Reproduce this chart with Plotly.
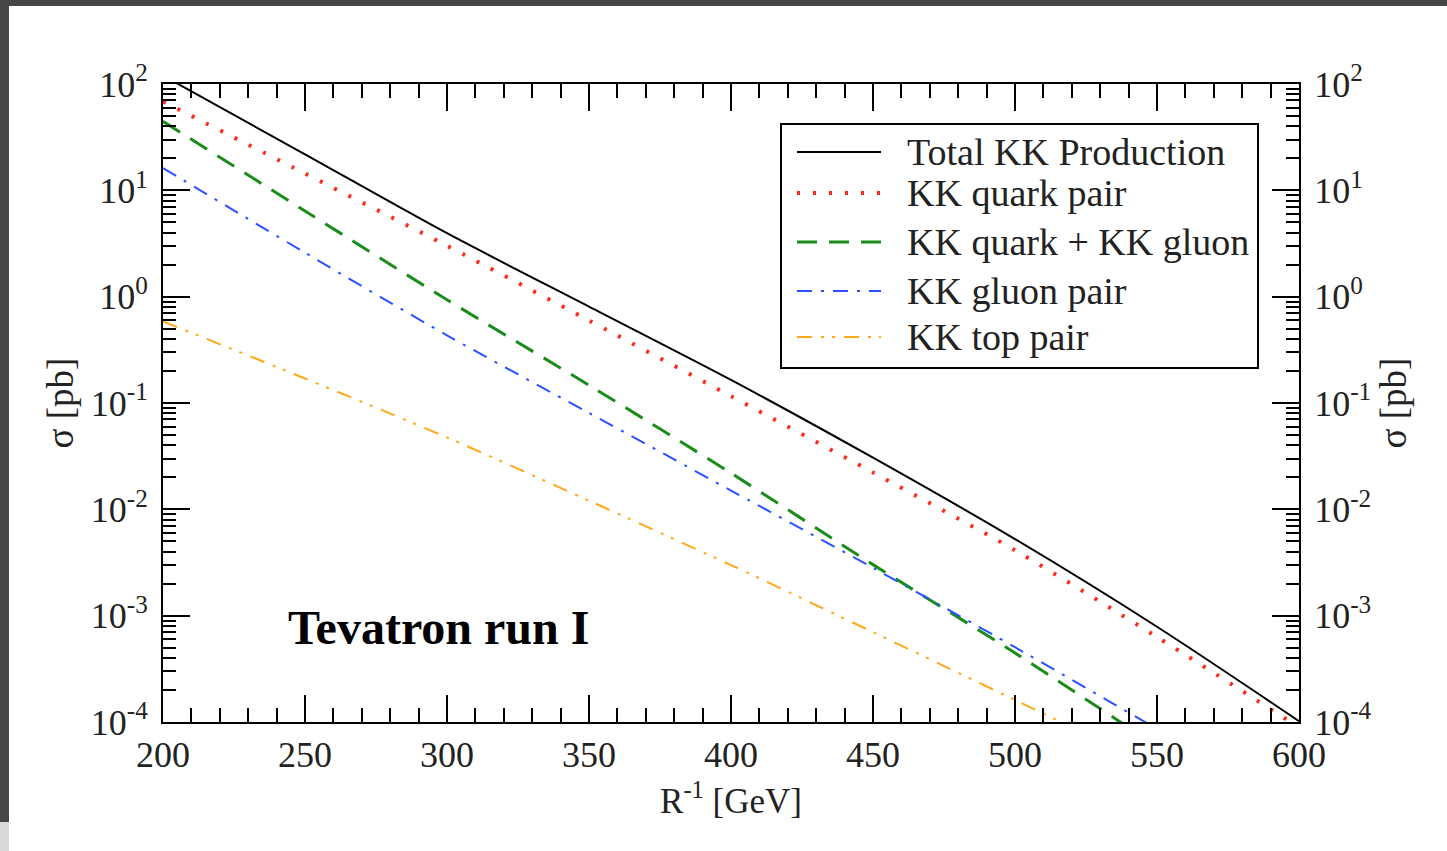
import plotly.graph_objects as go

# ---- data ----
R_inv = [200, 250, 300, 350, 400, 450, 500, 550, 600]
total_kk = [120, 21.8, 3.95, 0.807, 0.165, 0.0306, 0.00525, 7.87e-4, 1.02e-4]
kk_quark_pair = [68.5, 14.4, 3.01, 0.597, 0.116, 0.0222, 0.00412, 6.3e-4, 8.9e-5]
kk_quark_gluon = [44.5, 6.4, 0.935, 0.147, 0.0219, 0.00302, 4.46e-4, 5.9e-5]
kk_gluon_pair = [16.2, 2.59, 0.433, 0.0807, 0.01503, 0.00282, 5.05e-4, 8.6e-5]
kk_top_pair = [0.585, 0.170, 0.0474, 0.01205, 0.00299, 7.0e-4, 1.61e-4, 3.7e-5]

series_names = ["Total KK Production", "KK quark pair", "KK quark + KK gluon",
                "KK gluon pair", "KK top pair"]
x_tick_vals = [200, 250, 300, 350, 400, 450, 500, 550, 600]
y_exponents = [-4, -3, -2, -1, 0, 1, 2]

# ---- styles ----
FONT = "Liberation Serif"
TXT = "#222222"
styles = [
    dict(color="black", width=2, dash="solid"),
    dict(color="#ff2a1a", width=4, dash="3px,13px"),
    dict(color="#1a8c1a", width=3, dash="20px,12px"),
    dict(color="#2a50ff", width=2, dash="15px,9px,3px,9px"),
    dict(color="#ffa81a", width=2, dash="15px,9px,3px,8px,3px,9px"),
]
all_series = [total_kk, kk_quark_pair, kk_quark_gluon, kk_gluon_pair, kk_top_pair]

# plot-area pixel geometry
L, RGT, T, B = 163, 1299, 84, 722
W, H = 1447, 851


def px_x(px):
    return (px - L) / (RGT - L)


def px_y(py):
    return (B - py) / (B - T)


fig = go.Figure()
for name, vals, st in zip(series_names, all_series, styles):
    fig.add_trace(go.Scatter(x=R_inv[:len(vals)], y=vals, mode="lines", name=name,
                             line=dict(shape="spline", smoothing=0.8, **st),
                             showlegend=False, hoverinfo="skip"))
# invisible trace for right axis
fig.add_trace(go.Scatter(x=R_inv[:1], y=total_kk[:1], yaxis="y2", mode="lines",
                         line=dict(width=0), showlegend=False, hoverinfo="skip"))

y_major = [10.0 ** e for e in y_exponents]
y_text = ["10<sup>%d</sup>" % e for e in y_exponents]
y_minor = [k * 10.0 ** e for e in y_exponents[:-1] for k in range(2, 10)]
x_minor = [v for v in range(200, 601, 10) if v % 50]


def yax(side, standoff):
    return dict(
        side=side,
        type="log", range=[-4, 2], tickmode="array", tickvals=y_major, ticktext=y_text,
        ticks="inside", ticklen=27, tickwidth=2, tickcolor="black",
        showline=True, linewidth=2, linecolor="black", showgrid=False, zeroline=False,
        tickfont=dict(family=FONT, size=36, color=TXT),
        minor=dict(tickmode="array", tickvals=y_minor, ticks="inside", ticklen=13,
                   tickwidth=2, tickcolor="black", showgrid=False),
        title=dict(text="σ [pb]", font=dict(family=FONT, size=37, color=TXT),
                   standoff=standoff),
        ticklabelstandoff=6,
    )


fig.update_layout(
    width=W, height=H,
    margin=dict(l=L, r=W - RGT, t=T, b=H - B, autoexpand=False),
    paper_bgcolor="#464646", plot_bgcolor="white",
    xaxis=dict(
        range=[200, 600], tickmode="array", tickvals=x_tick_vals,
        ticks="inside", ticklen=27, tickwidth=2, tickcolor="black",
        showline=True, linewidth=2, linecolor="black", mirror="ticks",
        showgrid=False, zeroline=False,
        tickfont=dict(family=FONT, size=36, color=TXT),
        minor=dict(tickmode="array", tickvals=x_minor, ticks="inside", ticklen=14,
                   tickwidth=2, tickcolor="black", showgrid=False),
        title=dict(text="R<sup>-1</sup> [GeV]", font=dict(family=FONT, size=35, color=TXT),
                   standoff=14),
        ticklabelstandoff=0,
    ),
    yaxis=yax("left", 6),
    yaxis2=dict(overlaying="y", **yax("right", 10)),
)

shapes = [
    # white page over dark frame
    dict(type="rect", xref="paper", yref="paper", layer="below",
         x0=px_x(9), x1=px_x(W + 5), y0=px_y(H + 5), y1=px_y(6),
         fillcolor="white", line=dict(width=0)),
    dict(type="rect", xref="paper", yref="paper", layer="below",
         x0=px_x(-5), x1=px_x(9), y0=px_y(H + 5), y1=px_y(822),
         fillcolor="#d9d9d9", line=dict(width=0)),
    # legend box
    dict(type="rect", xref="paper", yref="paper",
         x0=px_x(781), x1=px_x(1258), y0=px_y(368), y1=px_y(124),
         fillcolor="white", line=dict(color="black", width=2)),
]
row_y = [152, 193, 242, 291, 337]
annotations = []
for name, st, ry in zip(series_names, styles, row_y):
    shapes.append(dict(type="line", xref="paper", yref="paper",
                       x0=px_x(797), x1=px_x(881), y0=px_y(ry), y1=px_y(ry),
                       line=st))
    annotations.append(dict(text=name, xref="paper", yref="paper",
                            x=px_x(905), y=px_y(ry), xanchor="left", yanchor="middle",
                            showarrow=False, font=dict(family=FONT, size=38, color=TXT)))
annotations.append(dict(text="<b>Tevatron run I</b>", xref="paper", yref="paper",
                        x=px_x(286), y=px_y(627), xanchor="left", yanchor="middle",
                        showarrow=False, font=dict(family=FONT, size=48, color="black")))
fig.update_layout(shapes=shapes, annotations=annotations)

fig.write_html("out.html", config={"displayModeBar": False},
               post_script="document.body.style.margin='0';document.body.style.overflow='hidden';")
